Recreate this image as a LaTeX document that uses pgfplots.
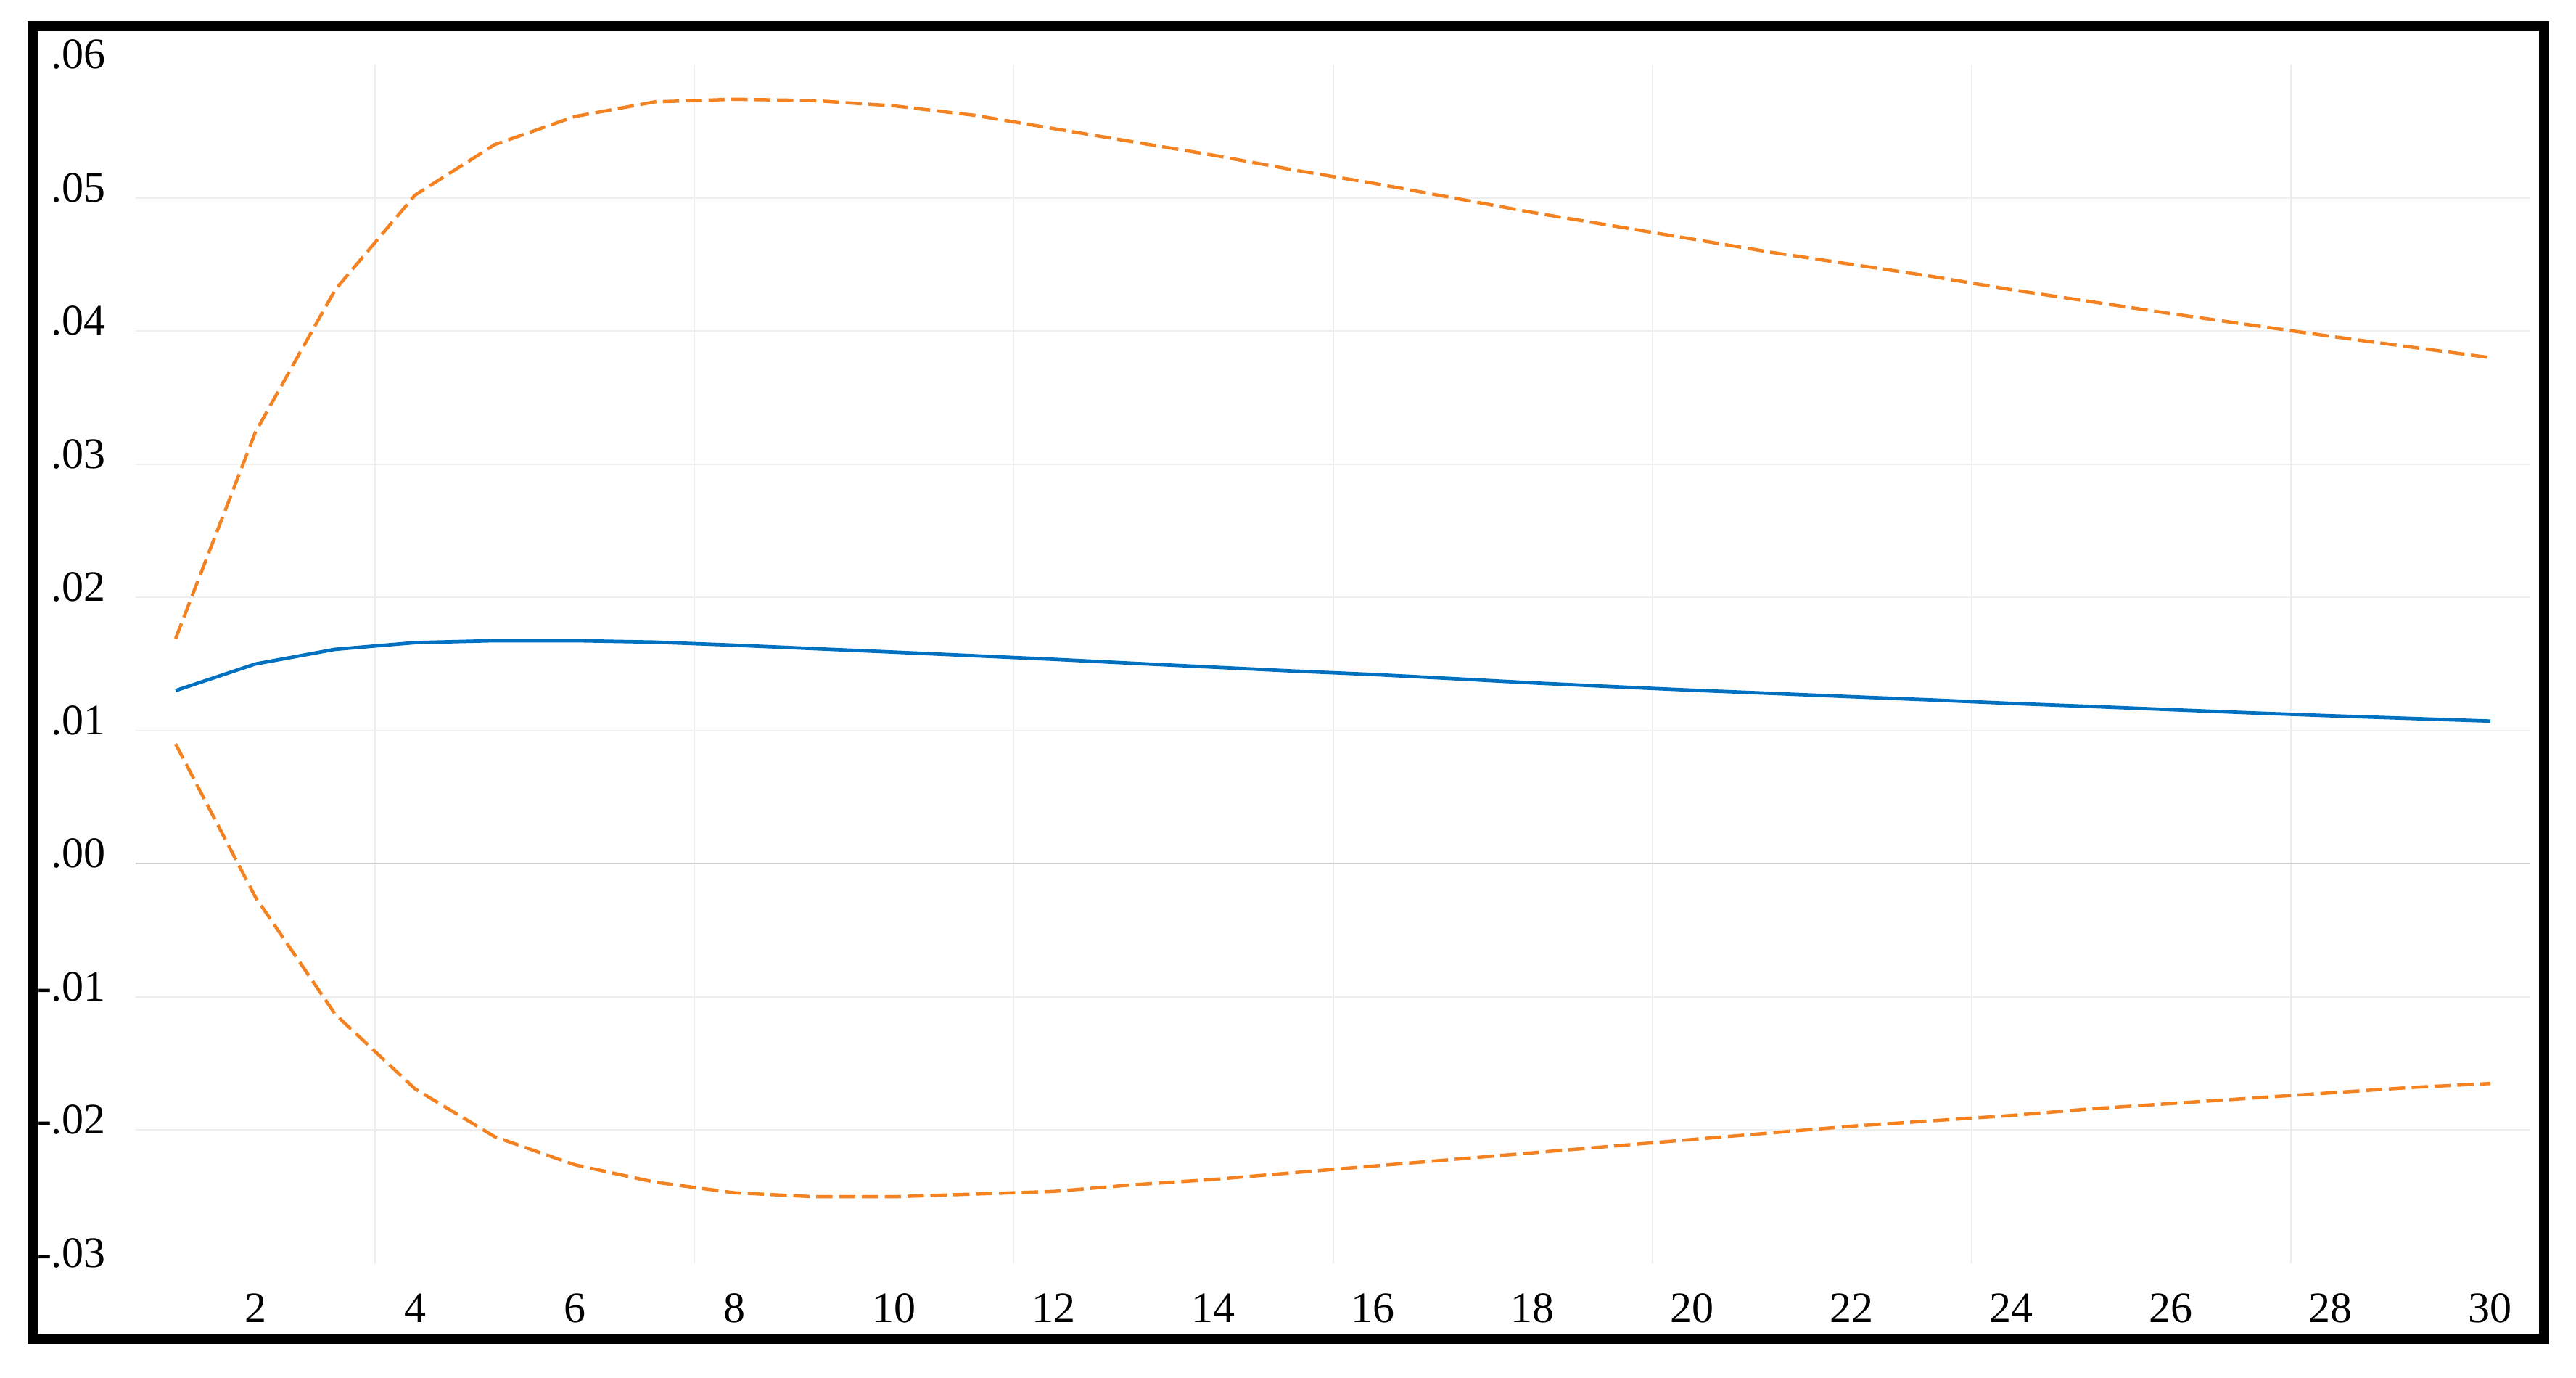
\documentclass[border=0pt]{standalone}
\usepackage{fontspec}
\setmainfont{Liberation Serif}
\usepackage{pgfplots}
\usepackage{pgfplotstable}
\pgfplotsset{compat=1.18}
\definecolor{evblue}{RGB}{0,112,192}
\definecolor{evorange}{RGB}{245,130,32}
\definecolor{gridc}{RGB}{238,238,238}
\definecolor{zeroc}{RGB}{204,204,204}

\pgfplotstableread{
x y
1 0.0130
2 0.0150
3 0.0161
4 0.0166
5 0.01675
6 0.01675
7 0.01664
8 0.01641
9 0.01615
10 0.01589
11 0.01562
12 0.01535
13 0.01505
14 0.01476
15 0.01447
16 0.01421
17 0.01390
18 0.01358
19 0.01330
20 0.01303
21 0.01279
22 0.01254
23 0.01230
24 0.01204
25 0.01181
26 0.01157
27 0.01133
28 0.01111
29 0.01091
30 0.01071
}\resptab

\pgfplotstableread{
x y
1 0.0169
2 0.0324
3 0.0431
4 0.0502
5 0.0540
6 0.0561
7 0.0572
8 0.0574
9 0.0573
10 0.0569
11 0.0562
12 0.0552
13 0.0542
14 0.0532
15 0.0521
16 0.0511
17 0.0500
18 0.0489
19 0.0479
20 0.0469
21 0.0459
22 0.0450
23 0.0441
24 0.0431
25 0.0422
26 0.0413
27 0.04045
28 0.0396
29 0.0388
30 0.0380
}\uppertab

\pgfplotstableread{
x y
1 0.0090
2 -0.0025
3 -0.0113
4 -0.0169
5 -0.0205
6 -0.0226
7 -0.0239
8 -0.0247
9 -0.0250
10 -0.0250
11 -0.0248
12 -0.0246
13 -0.0241
14 -0.0237
15 -0.0232
16 -0.0227
17 -0.0222
18 -0.0217
19 -0.0212
20 -0.0207
21 -0.0202
22 -0.0197
23 -0.0193
24 -0.0189
25 -0.0184
26 -0.0180
27 -0.0176
28 -0.0172
29 -0.0168
30 -0.0165
}\lowertab

\begin{document}
\begin{tikzpicture}
\useasboundingbox (0,0) rectangle (710.2pt,379.8pt);
\fill[white] (0,0) rectangle (710.2pt,379.8pt);
\begin{axis}[
  at={(37.4pt,31.6pt)}, anchor=south west,
  scale only axis, width=660.2pt, height=330.4pt,
  xmin=0.5, xmax=30.5, ymin=-0.03, ymax=0.06,
  scaled y ticks=false, scaled x ticks=false,
  axis line style={draw=none},
  major tick length=0pt, tick style={draw=none},
  xtick={2,4,...,30},
  xticklabels={2,4,6,8,10,12,14,16,18,20,22,24,26,28,30},
  ytick={-0.02,-0.01,0,0.01,0.02,0.03,0.04,0.05},
  yticklabels={-.02,-.01,.00,.01,.02,.03,.04,.05},
  ymajorgrids,
  major grid style={gridc, line width=0.4pt},
  extra y ticks={-0.03,0.06},
  extra y tick labels={-.03,.06},
  extra y tick style={grid=none},
  extra x ticks={3.5,7.5,11.5,15.5,19.5,23.5,27.5},
  extra x tick labels={},
  extra x tick style={grid=major},
  ticklabel style={font=\fontsize{12pt}{14pt}\selectfont, inner sep=0pt},
  xticklabel style={anchor=north, yshift=-8.2pt},
  yticklabel style={anchor=east, xshift=-8pt, yshift=2.8pt},
  clip=false,
]
\draw[zeroc, line width=0.4pt] (axis cs:0.5,0) -- (axis cs:30.5,0);
\addplot[evorange, line width=0.9pt, dash pattern=on 4.5pt off 1.8pt] table[x=x,y=y] {\uppertab};
\addplot[evorange, line width=0.9pt, dash pattern=on 4.5pt off 1.8pt] table[x=x,y=y] {\lowertab};
\addplot[evblue, line width=0.95pt] table[x=x,y=y] {\resptab};
\end{axis}
\draw[line width=2.8pt] (9pt,10.8pt) rectangle (701.4pt,372.6pt);
\end{tikzpicture}
\end{document}
